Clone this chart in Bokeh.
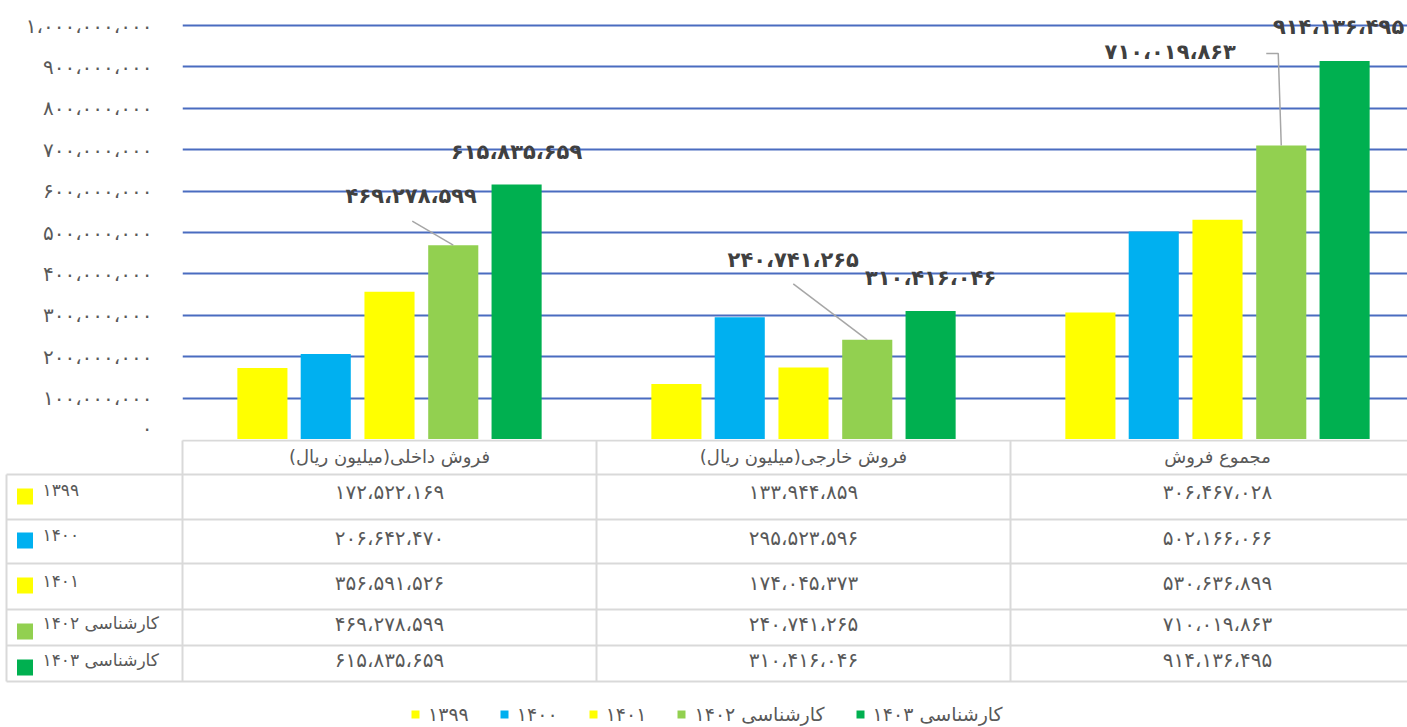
from bokeh.plotting import figure
from bokeh.models import (Range1d, FixedTicker, CustomJSTickFormatter, Legend, LegendItem)
from bokeh.layouts import column
from bokeh.embed import file_html
from bokeh.resources import INLINE
from bokeh.core.properties import value

# ---------------- data ----------------
categories = ["فروش داخلی(میلیون ریال)", "فروش خارجی(میلیون ریال)", "مجموع فروش"]
series_names = ["۱۳۹۹", "۱۴۰۰", "۱۴۰۱", "کارشناسی ۱۴۰۲", "کارشناسی ۱۴۰۳"]
v1399 = [172522169, 133944859, 306467028]
v1400 = [206642470, 295523596, 502166066]
v1401 = [356591526, 174045373, 530636899]
v1402 = [469278599, 240741265, 710019863]
v1403 = [615835659, 310416046, 914136495]
y_ticks = [0, 100000000, 200000000, 300000000, 400000000, 500000000,
           600000000, 700000000, 800000000, 900000000, 1000000000]

series_values = [v1399, v1400, v1401, v1402, v1403]
colors = ["#FFFF00", "#00B0F0", "#FFFF00", "#92D050", "#00B050"]

FA = str.maketrans("0123456789", "۰۱۲۳۴۵۶۷۸۹")
RLM = "\u200f"


def fa(n):
    return f"{n:,}".replace(",", "،").translate(FA)


# ---------------- geometry / style ----------------
W = 1407
FRAME_LEFT = 182
TOP_PAD = 25            # px between figure top and the 1e9 gridline
BAND = 414.0            # px per category band
YMAX = 1e9
FRAME_H = 414.0         # px from 0 to 1e9
XMAX = (W - FRAME_LEFT) / BAND
XMIN_B = -FRAME_LEFT / BAND
offsets = [-0.307, -0.154, 0.0, 0.154, 0.307]
BAR_W = 0.121
FONT = "DejaVu Sans"
GRAY = "#595959"


def px_x(px):
    return px / BAND


def px_y(px):
    return px * YMAX / FRAME_H


# ---------------- chart ----------------
pA = figure(width=W, height=int(FRAME_H + TOP_PAD), x_range=Range1d(0, XMAX),
            y_range=Range1d(0, YMAX + px_y(TOP_PAD)),
            output_backend="svg", toolbar_location=None, x_axis_location=None,
            min_border_left=FRAME_LEFT, min_border_right=0, min_border_top=0,
            min_border_bottom=0)
pA.frame_align = False
pA.outline_line_color = None
pA.xgrid.visible = False
pA.ygrid.ticker = FixedTicker(ticks=y_ticks[1:])
pA.ygrid.grid_line_color = "#4A6CC0"
pA.ygrid.grid_line_width = 2

ax = pA.yaxis[0]
ax.ticker = FixedTicker(ticks=y_ticks)
ax.formatter = CustomJSTickFormatter(code="""
const d = '۰۱۲۳۴۵۶۷۸۹';
let s = Math.round(tick).toString().replace(/\\B(?=(\\d{3})+(?!\\d))/g, '،');
return s.replace(/[0-9]/g, c => d[+c]);
""")
ax.axis_line_color = None
ax.major_tick_line_color = None
ax.minor_tick_line_color = None
ax.major_tick_out = 0
ax.major_tick_in = 0
ax.major_label_standoff = 30
ax.major_label_text_font = FONT
ax.major_label_text_font_size = "20px"
ax.major_label_text_color = GRAY

bar_x = []
for i, vals in enumerate(series_values):
    xs = [j + 0.5 + offsets[i] for j in range(len(categories))]
    bar_x.append(xs)
    pA.vbar(x=xs, top=vals, width=BAR_W, bottom=0, fill_color=colors[i], line_color=None)

# data labels (series 1403: above bar; series 1402: moved with leader lines)
lab_x = bar_x[4] + bar_x[3]
lab_y = v1403 + v1402
lab_t = [fa(v) for v in v1403] + [fa(v) for v in v1402]
lab_dx = [0, 0, -6, -42, -74, -111]
lab_dy = [-33, -33, -34, -49, -80, -94]
pA.text(x=lab_x, y=lab_y, text=lab_t, x_offset=lab_dx, y_offset=lab_dy,
        text_align="center", text_baseline="middle", text_font=value(FONT),
        text_font_style="bold", text_font_size="21px", text_color="#404040")

# leader lines for the 1402 labels (pixel offsets from bar top)
leader_px = [[(-41, 24), (0, 0)],
             [(-74, 56), (0, 0)],
             [(-15, 92), (-3, 92), (0, 0)]]
lxs, lys = [], []
for j, pts in enumerate(leader_px):
    lxs.append([bar_x[3][j] + px_x(dx) for dx, dy in pts])
    lys.append([v1402[j] + px_y(dy) for dx, dy in pts])
pA.multi_line(xs=lxs, ys=lys, line_color="#A6A6A6", line_width=1.5)

# ---------------- data table ----------------
HB = 288
pB = figure(width=W, height=HB, x_range=Range1d(XMIN_B, XMAX), y_range=Range1d(HB, 0),
            output_backend="svg", toolbar_location=None, x_axis_location=None,
            y_axis_location=None, min_border_left=0, min_border_right=0,
            min_border_top=0, min_border_bottom=0)
pB.frame_align = False
pB.outline_line_color = None
pB.xgrid.visible = False
pB.ygrid.visible = False

x_left = px_x(6 - FRAME_LEFT)
row_lines = [35, 80, 124, 170, 206, 242]
x0, y0, x1, y1 = [], [], [], []
x0.append(0); y0.append(1); x1.append(XMAX + 1); y1.append(1)
for r in row_lines:
    x0.append(x_left); y0.append(r); x1.append(XMAX + 1); y1.append(r)
for c in range(len(categories) + 1):
    x0.append(c); y0.append(1); x1.append(c); y1.append(row_lines[-1])
x0.append(x_left); y0.append(row_lines[0]); x1.append(x_left); y1.append(row_lines[-1])
pB.segment(x0=x0, y0=y0, x1=x1, y1=y1, line_color="#D9D9D9", line_width=2)

cat_x = [j + 0.5 for j in range(len(categories))]
pB.text(x=cat_x, y=[17] * 3, text=[c + RLM for c in categories], text_align="center",
        text_baseline="middle", text_font=value(FONT), text_font_size="18px",
        text_color=GRAY)

row_text_y = [52, 98, 143, 184, 220]
row_label_y = [50, 95, 141, 183, 220]
square_y = [57, 101, 146, 192, 228]
legend_items = []
for i, vals in enumerate(series_values):
    pB.text(x=cat_x, y=[row_text_y[i]] * 3, text=[fa(v) for v in vals],
            text_align="center", text_baseline="middle", text_font=value(FONT),
            text_font_size="20px", text_color=GRAY)
    pB.text(x=[px_x(42 - FRAME_LEFT)], y=[row_label_y[i]], text=[series_names[i]],
            text_align="left", text_baseline="middle", text_font=value(FONT),
            text_font_size="17px", text_color=GRAY)
    r = pB.rect(x=[px_x(24.5 - FRAME_LEFT)], y=[square_y[i]], width=16, height=16,
                width_units="screen", height_units="screen",
                fill_color=colors[i], line_color=None)
    legend_items.append(LegendItem(label=value(series_names[i]), renderers=[r]))

legend = Legend(items=legend_items, orientation="horizontal", location=(410, 2),
                glyph_width=10, glyph_height=10, label_standoff=8, spacing=30,
                padding=0, margin=0, border_line_color=None, background_fill_alpha=0,
                label_text_font=FONT, label_text_font_size="19px",
                label_text_color=GRAY, label_height=16)
pB.add_layout(legend)

layout = column(pA, pB, spacing=0)
open("out.html", "w").write(file_html(layout, INLINE))
